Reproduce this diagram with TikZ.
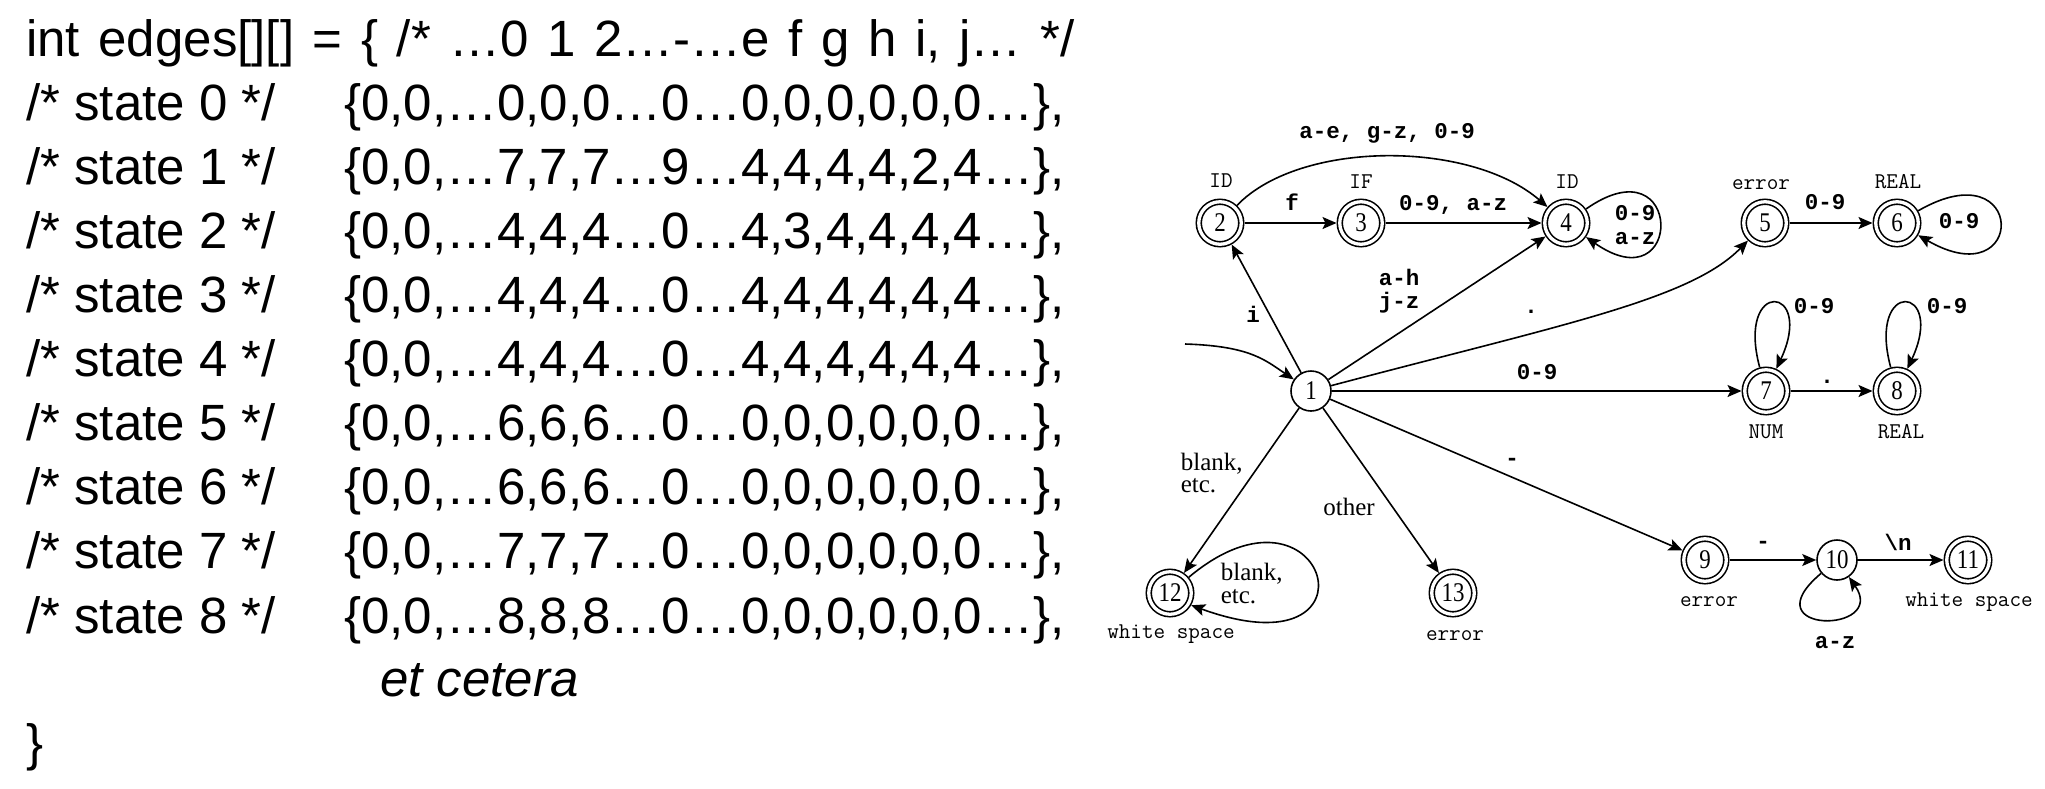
\documentclass[tikz,border=0pt]{standalone}
\usepackage{fontspec}
\usetikzlibrary{arrows.meta}
\newfontfamily\arialf{Liberation Sans}
\newfontfamily\tmsf{Liberation Serif}
\newfontfamily\courf{Liberation Mono}
\newcommand{\codefont}{\arialf\fontsize{51}{60}\selectfont}
\newcommand{\numfont}{\tmsf\fontsize{27}{27}\selectfont}
\newcommand{\labfont}{\courf\bfseries\fontsize{22.5}{23}\selectfont}
\newcommand{\tagfont}{\ttfamily\fontsize{22.5}{23}\selectfont}
\newcommand{\serfont}{\tmsf\fontsize{25}{23}\selectfont}
\newcommand{\nn}[1]{\scalebox{0.85}[1]{#1}}
\tikzset{
  st/.style={circle, draw, line width=1.6pt, minimum size=40pt, inner sep=0pt, outer sep=0.8pt, font=\numfont},
  acc/.style={st, double, double distance=3.3pt, minimum size=42.5pt, outer sep=3.25pt},
  lab/.style={font=\labfont, inner sep=0pt, anchor=base},
  tag/.style={font=\tagfont, inner sep=0pt, anchor=base},
  ser/.style={font=\serfont, inner sep=0pt, anchor=base west},
  arr/.style={-{Stealth[length=14pt,width=12pt,inset=3pt]}, line width=1.6pt},
  code/.style={font=\codefont, inner sep=0pt, anchor=base west},
}
\begin{document}
\begin{tikzpicture}[x=1pt,y=1pt]
\useasboundingbox (0,0) rectangle (2045,-788);
\fill[white] (0,0) rectangle (2045,-788);
% ---- code table ----
\node[code] (c0) at (26,-56) {\spaceskip=18.6pt int edges[][] = \{ /* …0 1 2…-…e f g h i, j… */};
\node[code] (s0) at (26,-120) {/* state 0 */};
\node[code] (r0) at (344,-120) {\{0,0,…0,0,0…0…0,0,0,0,0,0…\},};
\node[code] (s1) at (26,-184) {/* state 1 */};
\node[code] (r1) at (344,-184) {\{0,0,…7,7,7…9…4,4,4,4,2,4…\},};
\node[code] (s2) at (26,-248) {/* state 2 */};
\node[code] (r2) at (344,-248) {\{0,0,…4,4,4…0…4,3,4,4,4,4…\},};
\node[code] (s3) at (26,-312) {/* state 3 */};
\node[code] (r3) at (344,-312) {\{0,0,…4,4,4…0…4,4,4,4,4,4…\},};
\node[code] (s4) at (26,-376) {/* state 4 */};
\node[code] (r4) at (344,-376) {\{0,0,…4,4,4…0…4,4,4,4,4,4…\},};
\node[code] (s5) at (26,-440) {/* state 5 */};
\node[code] (r5) at (344,-440) {\{0,0,…6,6,6…0…0,0,0,0,0,0…\},};
\node[code] (s6) at (26,-504) {/* state 6 */};
\node[code] (r6) at (344,-504) {\{0,0,…6,6,6…0…0,0,0,0,0,0…\},};
\node[code] (s7) at (26,-568) {/* state 7 */};
\node[code] (r7) at (344,-568) {\{0,0,…7,7,7…0…0,0,0,0,0,0…\},};
\node[code] (s8) at (26,-633) {/* state 8 */};
\node[code] (r8) at (344,-633) {\{0,0,…8,8,8…0…0,0,0,0,0,0…\},};
\node[code] (etc) at (380,-696) {\itshape et cetera};
\node[code] (cb) at (26,-760) {\}};
% ---- states ----
\node[st]  (n1)  at (1311,-391) {\nn{1}};
\node[acc] (n2)  at (1220,-223) {\nn{2}};
\node[acc] (n3)  at (1361,-223) {\nn{3}};
\node[acc] (n4)  at (1566,-223) {\nn{4}};
\node[acc] (n5)  at (1765,-223) {\nn{5}};
\node[acc] (n6)  at (1897,-223) {\nn{6}};
\node[acc] (n7)  at (1766,-391) {\nn{7}};
\node[acc] (n8)  at (1897,-391) {\nn{8}};
\node[acc] (n9)  at (1705,-560) {\nn{9}};
\node[st]  (n10) at (1837,-560) {\nn{10}};
\node[acc] (n11) at (1968,-560) {\nn{11}};
\node[acc] (n12) at (1170,-593) {\nn{12}};
\node[acc] (n13) at (1453,-593) {\nn{13}};
% ---- state tags ----
\node[tag] (t2)  at (1221,-187) {ID};
\node[tag] (t3)  at (1361,-188) {IF};
\node[tag] (t4)  at (1567,-188) {ID};
\node[tag] (t5)  at (1761,-189) {error};
\node[tag] (t6)  at (1898,-188) {REAL};
\node[tag] (t7)  at (1766,-438) {NUM};
\node[tag] (t8)  at (1901,-438) {REAL};
\node[tag] (t9)  at (1709,-606) {error};
\node[tag] (t11) at (1969,-606) {white space};
\node[tag] (t12) at (1171,-638) {white space};
\node[tag] (t13) at (1455,-640) {error};
% ---- transitions ----
\coordinate (start) at (1185,-344);
\draw[arr] (start) .. controls (1250,-346) and (1265,-360) .. (n1);
\draw[arr] (n1) -- (n2) node[lab] (li) at (1253,-322) {i};
\draw[arr] (n2) -- (n3) node[lab] (lf) at (1292,-210) {f};
\draw[arr] (n3) -- (n4) node[lab] (l34) at (1453,-210) {0-9, a-z};
\draw[arr] (n2) .. controls (1300,-140) and (1470,-140) .. (n4)
  node[lab] (l24) at (1387,-138) {a-e, g-z, 0-9};
\draw[arr] (n1) -- (n4) node[lab] (l14a) at (1399,-285) {a-h}
  node[lab] (l14b) at (1399,-308) {j-z};
\draw[arr] (n1) .. controls (1560,-325) and (1690,-300) .. (n5)
  node[lab] (l15) at (1531,-313) {.};
\draw[arr] (n1) -- (n7) node[lab] (l17) at (1537,-379) {0-9};
\draw[arr] (n1) -- (n9) node[lab] (l19) at (1512,-465) {-};
\draw[arr] (n1) -- (n12) node[ser] (l112a) at (1180,-470) {blank,}
  node[ser] (l112b) at (1180,-492) {etc.};
\draw[arr] (n1) -- (n13) node[ser,anchor=base] (l113) at (1349,-515) {other};
\draw[arr] (n5) -- (n6) node[lab] (l56) at (1825,-209) {0-9};
\draw[arr] (n7) -- (n8) node[lab] (l78) at (1827,-383) {.};
\draw[arr] (n9) -- (n10) node[lab] (l910) at (1763,-548) {-};
\draw[arr] (n10) -- (n11) node[lab] (l1011) at (1898,-550) {\textbackslash n};
% ---- loops ----
\draw[arr] (n4.35) .. controls +(35:120) and +(-35:120) .. (n4.-35)
  node[lab] (l44a) at (1635,-220) {0-9}
  node[lab] (l44b) at (1635,-244) {a-z};
\draw[arr] (n6.30) .. controls +(30:126) and +(-30:126) .. (n6.-30)
  node[lab] (l66) at (1959,-228) {0-9};
\draw[arr] (n7.105) .. controls +(105:93) and +(65:93) .. (n7.65)
  node[lab] (l77) at (1814,-313) {0-9};
\draw[arr] (n8.105) .. controls +(105:93) and +(65:93) .. (n8.65)
  node[lab] (l88) at (1947,-313) {0-9};
\draw[arr] (n10.-140) .. controls +(-140:95) and +(-55:70) .. (n10.-55)
  node[lab] (l1010) at (1835,-648) {a-z};
\draw[arr] (n12.40) .. controls +(40:180) and +(-20:210) .. (n12.-30)
  node[ser] (l1212a) at (1220,-580) {blank,}
  node[ser] (l1212b) at (1220,-603) {etc.};
\end{tikzpicture}
\end{document}
